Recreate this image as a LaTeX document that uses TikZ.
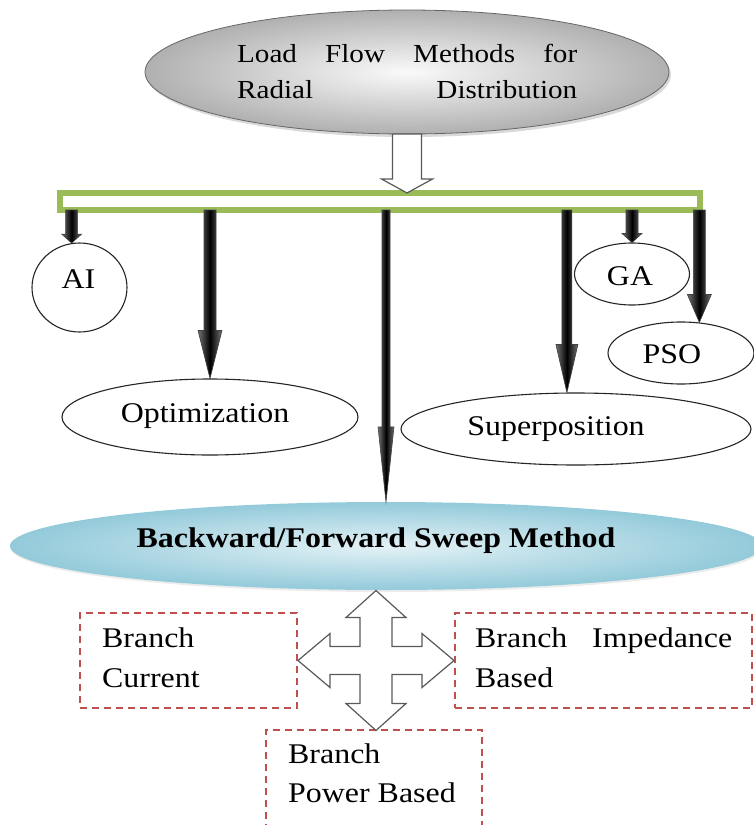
\documentclass[tikz,border=0pt]{standalone}
\usepackage{fontspec}
\setmainfont{Liberation Serif}
\usetikzlibrary{shapes.geometric,calc,shadows}
\definecolor{busgreen}{HTML}{9BBB59}
\definecolor{boxred}{HTML}{C0504D}
\definecolor{sweeplight}{HTML}{E4F2F6}
\definecolor{sweepedge}{HTML}{93CADA}
% slightly widened lettering
\newcommand\wtxt[1]{\scalebox{1.12}[1]{#1}}
% dark shaded block arrow: #1 start, #2 tip, #3 half shaft, #4 half head, #5 head length
\newcommand\fatarrow[5]{%
  \path[fat] ($(#1)+(-#3,0)$) -- ($(#2)+(-#3,-#5)$) -- ($(#2)+(-#4,-#5)$) -- (#2)
    -- ($(#2)+(#4,-#5)$) -- ($(#2)+(#3,-#5)$) -- ($(#1)+(#3,0)$) -- cycle;}
\begin{document}
\begin{tikzpicture}[x=1pt,y=-1pt,
  oval/.style={ellipse, draw=black!85, line width=1.1pt, fill=white, inner sep=0pt},
  txt/.style={inner sep=0pt, anchor=base, font=\fontsize{28.5}{32}\selectfont},
  txtl/.style={txt, anchor=base west},
  fat/.style={left color=black!55, right color=black!55, middle color=black, draw=black!75, line width=0.6pt},
  hollow/.style={fill=white, draw=black!65, line width=1.2pt, line join=miter},
  dashbox/.style={draw=boxred, line width=1.3pt, dash pattern=on 7pt off 5pt, inner sep=0pt, fill=none}]
\useasboundingbox (0,0) rectangle (754,825);

% title ellipse
\node[ellipse, minimum width=524pt, minimum height=124pt, inner sep=0pt,
      shading=radial, inner color=gray!4, outer color=gray!62, draw=black!60, line width=0.8pt,
      drop shadow={opacity=0.3, shadow xshift=2pt, shadow yshift=-3pt}] (src) at (407,72) {};
\node[txtl, font=\fontsize{26}{30}\selectfont] (srcA) at (237,62)
  {\wtxt{\makebox[303.6pt]{Load\hfill Flow\hfill Methods\hfill for}}};
\node[txtl, font=\fontsize{26}{30}\selectfont] (srcB) at (237,98)
  {\wtxt{\makebox[303.6pt]{Radial\hfill Distribution}}};

% distribution bar
\node[draw=busgreen, line width=6pt, fill=white, minimum width=640pt, minimum height=17pt,
      inner sep=0pt, outer sep=0pt] (bus) at (380,201.5) {};

% hollow arrow from title to bar
\draw[hollow, shift={(src.south |- bus.north)}]
  (-14.5,-59) -- (-14.5,-14) -- (-25.5,-14) -- (0,0) -- (25.5,-14) -- (14.5,-14) -- (14.5,-59) -- cycle;

% method ovals
\node[oval, minimum width=95pt, minimum height=89pt] (ai) at (79.5,287.5) {};
\node[oval, minimum width=115pt, minimum height=62pt] (ga) at (632,274) {};
\node[oval, minimum width=146pt, minimum height=62pt] (pso) at (681,353) {};
\node[oval, minimum width=296pt, minimum height=76pt] (opt) at (210,417) {};
\node[oval, minimum width=350pt, minimum height=72pt] (sup) at (576,429) {};

\node[txt] (aiT) at (78.5,288) {\wtxt{AI}};
\node[txt] (gaT) at (630,285) {\wtxt{GA}};
\node[txt] (psoT) at (672,363) {\wtxt{PSO}};
\node[txt] (optT) at (205,422) {\wtxt{Optimization}};
\node[txt] (supT) at (556,435) {\wtxt{Superposition}};

% sweep method ellipse
\node[ellipse, minimum width=752pt, minimum height=88pt, inner sep=0pt, draw=none,
      shading=radial, inner color=sweeplight, outer color=sweepedge,
      drop shadow={opacity=0.15, shadow xshift=1pt, shadow yshift=-2pt}] (bfs) at (386,546) {};
\node[txt, font=\fontsize{28.5}{32}\selectfont\bfseries] (bfsT) at (376,547)
  {\wtxt{Backward/Forward Sweep Method}};

% shaded arrows from the bar
\coordinate (aiS) at (ai.100 |- bus.south);
\coordinate (optS) at (opt.north |- bus.south);
\coordinate (bfsS) at (bfs.north |- bus.south);
\coordinate (supS) at (sup.104 |- bus.south);
\coordinate (gaS) at (ga.north |- bus.south);
\coordinate (psoS) at (pso.59 |- bus.south);
\fatarrow{aiS}{ai.100}{6}{10}{9}
\fatarrow{optS}{opt.north}{6}{12}{48}
\fatarrow{bfsS}{bfs.north}{4}{8}{75}
\fatarrow{supS}{sup.104}{5}{11}{48}
\fatarrow{gaS}{ga.north}{6}{10}{9}
\fatarrow{psoS}{pso.59}{6}{12}{28}

% variant boxes
\node[dashbox, minimum width=217pt, minimum height=95pt] (bc) at (188.5,660.5) {};
\node[dashbox, minimum width=297pt, minimum height=95pt] (bi) at (603.5,660.5) {};
\node[dashbox, minimum width=216pt, minimum height=110pt] (bp) at (374,785) {};

\node[txtl] (bcA) at (102,647) {\wtxt{Branch}};
\node[txtl] (bcB) at (102,687) {\wtxt{Current}};
\node[txtl] (biA) at (475,647) {\wtxt{\makebox[229.5pt]{Branch\hfill Impedance}}};
\node[txtl] (biB) at (475,687) {\wtxt{Based}};
\node[txtl] (bpA) at (288,763) {\wtxt{Branch}};
\node[txtl] (bpB) at (288,802) {\wtxt{Power Based}};

% four-way hollow arrow
\coordinate (hub) at ($(bc.east)!0.5!(bi.west)$);
\draw[hollow, shift={(hub)}]
  (0,-70) -- (30,-43) -- (16,-43) -- (16,-14) -- (46,-14) -- (46,-27) -- (78,0)
  -- (46,27) -- (46,14) -- (16,14) -- (16,43) -- (30,43) -- (0,70)
  -- (-30,43) -- (-16,43) -- (-16,14) -- (-46,14) -- (-46,27) -- (-78,0)
  -- (-46,-27) -- (-46,-14) -- (-16,-14) -- (-16,-43) -- (-30,-43) -- cycle;
\end{tikzpicture}
\end{document}
